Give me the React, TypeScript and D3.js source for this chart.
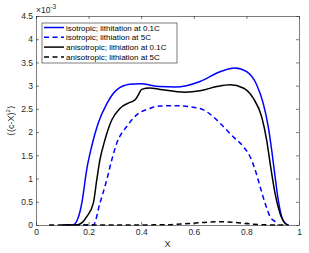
import * as d3 from "d3";
import React, { useEffect, useRef } from "react";

// values in units of 1e-3
const isoFastX = [0.1, 0.14, 0.16, 0.175, 0.193, 0.212, 0.237, 0.27, 0.307, 0.357, 0.395, 0.47, 0.53, 0.624, 0.7, 0.757, 0.801, 0.839, 0.864, 0.883, 0.896, 0.909, 0.921, 0.934, 0.947, 0.96];
const isoFastY = [0, 0, 0.15, 0.5, 1.2, 1.7, 2.2, 2.62, 2.91, 3.03, 3.04, 2.98, 2.97, 3.09, 3.3, 3.38, 3.3, 3.02, 2.62, 2.12, 1.62, 1.04, 0.54, 0.18, 0.04, 0];

const isoSlowX = [0.18, 0.218, 0.243, 0.269, 0.288, 0.307, 0.345, 0.383, 0.433, 0.471, 0.53, 0.58, 0.636, 0.674, 0.712, 0.75, 0.788, 0.814, 0.833, 0.852, 0.871, 0.89, 0.909, 0.92];
const isoSlowY = [0, 0, 0.47, 0.97, 1.4, 1.76, 2.12, 2.37, 2.51, 2.56, 2.57, 2.55, 2.48, 2.33, 2.12, 1.9, 1.69, 1.47, 1.19, 0.83, 0.47, 0.18, 0.07, 0];

const anisoFastX = [0.1, 0.155, 0.175, 0.193, 0.218, 0.231, 0.243, 0.262, 0.288, 0.319, 0.357, 0.376, 0.389, 0.402, 0.433, 0.471, 0.567, 0.624, 0.687, 0.738, 0.788, 0.826, 0.858, 0.877, 0.892, 0.909, 0.928, 0.947, 0.96];
const anisoFastY = [0, 0, 0.05, 0.18, 0.47, 0.97, 1.4, 1.83, 2.26, 2.51, 2.64, 2.69, 2.8, 2.92, 2.95, 2.92, 2.86, 2.89, 2.98, 3.02, 2.95, 2.73, 2.33, 1.83, 1.26, 0.68, 0.25, 0.04, 0];

const anisoSlowX = [0.05, 0.3, 0.5, 0.55, 0.6, 0.65, 0.7, 0.75, 0.8, 0.85, 0.9, 0.95];
const anisoSlowY = [0, 0, 0.005, 0.02, 0.04, 0.06, 0.07, 0.06, 0.03, 0.01, 0, 0];

const legendLabels = [
  "isotropic; lithitation at 0.1C",
  "isotropic; lithiation at 5C",
  "anisotropic; lithiation at 0.1C",
  "anisotropic; lithiation at 5C",
];

const xTicks = [0, 0.2, 0.4, 0.6, 0.8, 1];
const yTicks = [0, 0.5, 1, 1.5, 2, 2.5, 3, 3.5, 4, 4.5];

const series = [
  { xs: isoFastX, ys: isoFastY, color: "#0000ff", dash: null },
  { xs: isoSlowX, ys: isoSlowY, color: "#0000ff", dash: "5,3.5" },
  { xs: anisoFastX, ys: anisoFastY, color: "#000000", dash: null },
  { xs: anisoSlowX, ys: anisoSlowY, color: "#000000", dash: "5,3.5" },
];

const width = 309;
const height = 253;
const margin = { top: 16, right: 10, bottom: 28, left: 36 };
const font = "'Liberation Sans', Arial, sans-serif";
const axisColor = "#262626";

export default function App() {
  const svgRef = useRef<SVGSVGElement>(null);

  useEffect(() => {
    const svg = d3.select(svgRef.current);
    svg.selectAll("*").remove();

    const innerWidth = width - margin.left - margin.right;
    const innerHeight = height - margin.top - margin.bottom;

    const xScale = d3.scaleLinear().domain([0, 1]).range([0, innerWidth]);
    const yScale = d3.scaleLinear().domain([0, 4.5]).range([innerHeight, 0]);

    const g = svg
      .append("g")
      .attr("transform", `translate(${margin.left}, ${margin.top})`);

    g.append("rect")
      .attr("width", innerWidth)
      .attr("height", innerHeight)
      .attr("fill", "white");

    // curves
    const lineGenerator = d3
      .line<[number, number]>()
      .x((d) => xScale(d[0]))
      .y((d) => yScale(d[1]))
      .curve(d3.curveMonotoneX);

    series.forEach((s) => {
      const pts = s.xs.map((x, i) => [x, s.ys[i]] as [number, number]);
      g.append("path")
        .attr("d", lineGenerator(pts))
        .attr("fill", "none")
        .attr("stroke", s.color)
        .attr("stroke-width", 1.5)
        .attr("stroke-dasharray", s.dash);
    });

    // axes
    const styleAxis = (sel: any) => {
      sel.selectAll("path").attr("stroke", axisColor).attr("stroke-width", 0.6);
      sel.selectAll("line").attr("stroke", axisColor).attr("stroke-width", 0.6);
      sel
        .selectAll("text")
        .attr("fill", axisColor)
        .style("font-family", font)
        .style("font-size", "8.5px");
    };

    const xAxisG = g
      .append("g")
      .attr("transform", `translate(0, ${innerHeight})`)
      .call(
        d3.axisBottom(xScale).tickValues(xTicks).tickSizeInner(-3).tickSizeOuter(0).tickPadding(4).tickFormat(d3.format("~g"))
      );
    styleAxis(xAxisG);

    const xTopG = g
      .append("g")
      .call(d3.axisTop(xScale).tickValues(xTicks).tickSizeInner(-3).tickSizeOuter(0).tickFormat(() => ""));
    styleAxis(xTopG);

    const yAxisG = g
      .append("g")
      .call(
        d3.axisLeft(yScale).tickValues(yTicks).tickSizeInner(-3).tickSizeOuter(0).tickPadding(3).tickFormat(d3.format("~g"))
      );
    styleAxis(yAxisG);

    const yRightG = g
      .append("g")
      .attr("transform", `translate(${innerWidth}, 0)`)
      .call(d3.axisRight(yScale).tickValues(yTicks).tickSizeInner(-3).tickSizeOuter(0).tickFormat(() => ""));
    styleAxis(yRightG);

    // exponent
    const expText = g
      .append("text")
      .attr("x", 0)
      .attr("y", -3)
      .attr("fill", axisColor)
      .style("font-family", font)
      .style("font-size", "8.5px");
    expText.append("tspan").text("\u00d710");
    expText.append("tspan").attr("dy", -4).style("font-size", "6.5px").text("-3");

    // axis labels
    g.append("text")
      .attr("x", innerWidth / 2)
      .attr("y", innerHeight + 22)
      .attr("text-anchor", "middle")
      .attr("fill", axisColor)
      .style("font-family", font)
      .style("font-size", "9px")
      .text("X");

    const yLabel = g
      .append("text")
      .attr("transform", `translate(-22, ${innerHeight / 2}) rotate(-90)`)
      .attr("text-anchor", "middle")
      .attr("fill", axisColor)
      .style("font-family", font)
      .style("font-size", "9px");
    yLabel.append("tspan").text("\u27e8(c-X)");
    yLabel.append("tspan").attr("dy", -4).style("font-size", "6px").text("2");
    yLabel.append("tspan").attr("dy", 4).text("\u27e9");

    // legend
    const legend = g.append("g").attr("transform", "translate(6, 7)");
    legend
      .append("rect")
      .attr("width", 135)
      .attr("height", 40)
      .attr("fill", "white")
      .attr("stroke", axisColor)
      .attr("stroke-width", 0.6);

    legendLabels.forEach((label, i) => {
      const y = 4.5 + i * 9.8;
      legend
        .append("line")
        .attr("x1", 2)
        .attr("x2", 22)
        .attr("y1", y)
        .attr("y2", y)
        .attr("stroke", series[i].color)
        .attr("stroke-width", 1.5)
        .attr("stroke-dasharray", series[i].dash);
      legend
        .append("text")
        .attr("x", 24)
        .attr("y", y + 3)
        .attr("fill", "#000")
        .style("font-family", font)
        .style("font-size", "8px")
        .text(label);
    });
  }, []);

  return (
    <svg
      ref={svgRef}
      width={width}
      height={height}
      style={{ position: "absolute", left: 0, top: 0, background: "white" }}
    ></svg>
  );
}
